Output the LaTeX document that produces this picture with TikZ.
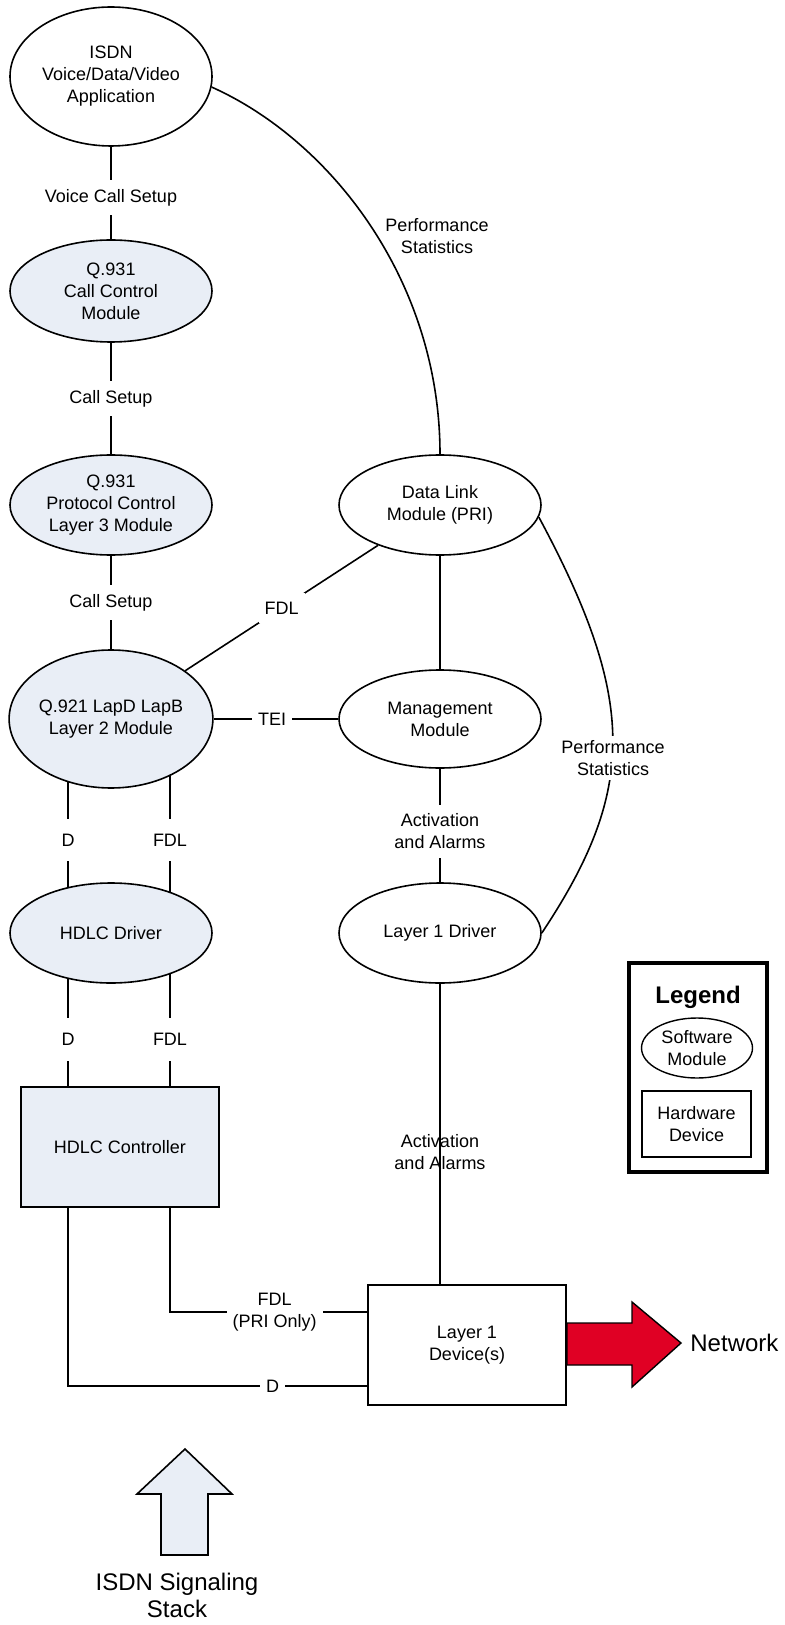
\documentclass[tikz,border=0pt]{standalone}
\usepackage{fontspec}
\setmainfont{Liberation Sans}
\usetikzlibrary{shapes.geometric,backgrounds}
\definecolor{modfill}{RGB}{233,238,246}
\definecolor{netred}{RGB}{224,0,36}
\begin{document}
\begin{tikzpicture}[x=0.5pt,y=-0.5pt,
  every node/.style={font=\fontsize{9pt}{11pt}\selectfont, align=center},
  mod/.style={ellipse, draw, line width=0.8pt, inner sep=0pt, fill=white},
  swmod/.style={mod, fill=modfill},
  hw/.style={rectangle, draw, line width=0.8pt, inner sep=0pt},
  conn/.style={line width=0.8pt},
  lbl/.style={fill=white, inner xsep=3pt, inner ysep=4.5pt},
  dlbl/.style={lbl, inner ysep=7.5pt},
  big/.style={font=\fontsize{12pt}{13.5pt}\selectfont},
]
\useasboundingbox (0,0) rectangle (784,1625);

% left column
\node[mod, minimum width=101pt, minimum height=69.5pt] (app) at (111,76.5) {ISDN\\Voice/Data/Video\\Application};
\node[swmod, minimum width=101pt, minimum height=51pt] (cc) at (111,291) {Q.931\\Call Control\\Module};
\node[swmod, minimum width=101pt, minimum height=50pt] (pc) at (111,505) {Q.931\\Protocol Control\\Layer 3 Module};
\node[swmod, minimum width=101pt, minimum height=69pt] (l2) at (111,719) {Q.921 LapD LapB\\Layer 2 Module};
\node[swmod, minimum width=101pt, minimum height=50pt] (hd) at (111,933) {HDLC Driver};
\node[hw, fill=modfill, minimum width=99pt, minimum height=60pt] (hc) at (120,1147) {HDLC Controller};

% right column
\node[mod, minimum width=101pt, minimum height=50pt] (dl) at (440,505) {Data Link\\Module (PRI)};
\node[mod, minimum width=101pt, minimum height=49pt] (mm) at (440,719) {Management\\Module};
\node[mod, minimum width=101pt, minimum height=50pt] (l1d) at (440,933) {Layer 1 Driver};
\node[hw, fill=white, minimum width=99pt, minimum height=60pt] (l1) at (467,1345) {Layer 1\\Device(s)};

\coordinate (colD) at (68,0);
\coordinate (colF) at (170,0);
\coordinate (rowD) at (0,1386);
\coordinate (rowF) at (0,1312);

\begin{pgfonlayer}{background}
\draw[conn] (app) -- (cc) node[lbl, pos=0.55] {Voice Call Setup};
\draw[conn] (cc) -- (pc) node[lbl, midway] {Call Setup};
\draw[conn] (pc) -- (l2) node[lbl, midway] {Call Setup};
\draw[conn] (l2) -- (dl) node[lbl, midway] {FDL};
\draw[conn] (l2) -- (mm) node[lbl, pos=0.47] {TEI};
\draw[conn] (l2.center -| colD) -- (hd.center -| colD) node[dlbl, pos=0.565] {D};
\draw[conn] (l2.center -| colF) -- (hd.center -| colF) node[dlbl, pos=0.565] {FDL};
\draw[conn] (hd.center -| colD) -- (hc.north -| colD) node[dlbl, pos=0.695] {D};
\draw[conn] (hd.center -| colF) -- (hc.north -| colF) node[dlbl, pos=0.695] {FDL};
\draw[conn] (hc.south -| colF) |- (l1.west |- rowF) node[lbl, pos=0.765] {FDL\\(PRI Only)};
\draw[conn] (hc.south -| colD) |- (l1.west |- rowD) node[lbl, pos=0.842] {D};
\draw[conn] (dl) -- (mm);
\draw[conn] (mm) -- (l1d) node[lbl, pos=0.55] {Activation\\and Alarms};
\draw[conn] (l1d) -- (l1d |- l1.north) node[pos=0.56, inner sep=0pt] {Activation\\and Alarms};
\draw[conn] (app.-6.6) .. controls (330,140) and (440,280) .. (dl.north);
\draw[conn] (dl.-7) .. controls (637,700) and (637,790) .. (l1d.east);
\node[lbl, inner xsep=1pt, inner ysep=2pt] (ps2) at (613,758) {Performance\\Statistics};
\end{pgfonlayer}

\node (ps1) at (437,236) {Performance\\Statistics};

% network arrow
\filldraw[fill=netred, draw=black, line width=0.7pt] (l1.east |- 0,1323) -- (632,1323) -- (632,1302) -- (681,1343) -- (632,1387) -- (632,1365) -- (l1.east |- 0,1365) -- cycle;
\node[anchor=west, big, inner sep=0pt] (net) at (690,1343) {Network};

% stack arrow
\filldraw[fill=modfill, draw=black, line width=0.8pt] (161,1555) -- (161,1494) -- (137,1494) -- (185,1449) -- (232,1494) -- (208,1494) -- (208,1555) -- cycle;
\node[big] (stack) at (177,1595) {ISDN Signaling\\Stack};

% legend
\node[draw, line width=2pt, minimum width=69pt, minimum height=104.5pt, inner sep=0pt] (legend) at (698,1067.5) {};
\node[font=\fontsize{12pt}{14pt}\selectfont\bfseries] (legt) at (698,997) {Legend};
\node[mod, line width=0.7pt, minimum width=55.5pt, minimum height=30pt] (legsw) at (697,1048) {Software\\Module};
\node[hw, line width=0.7pt, minimum width=54.5pt, minimum height=33pt] (leghw) at (696.5,1124) {Hardware\\Device};
\end{tikzpicture}
\end{document}
